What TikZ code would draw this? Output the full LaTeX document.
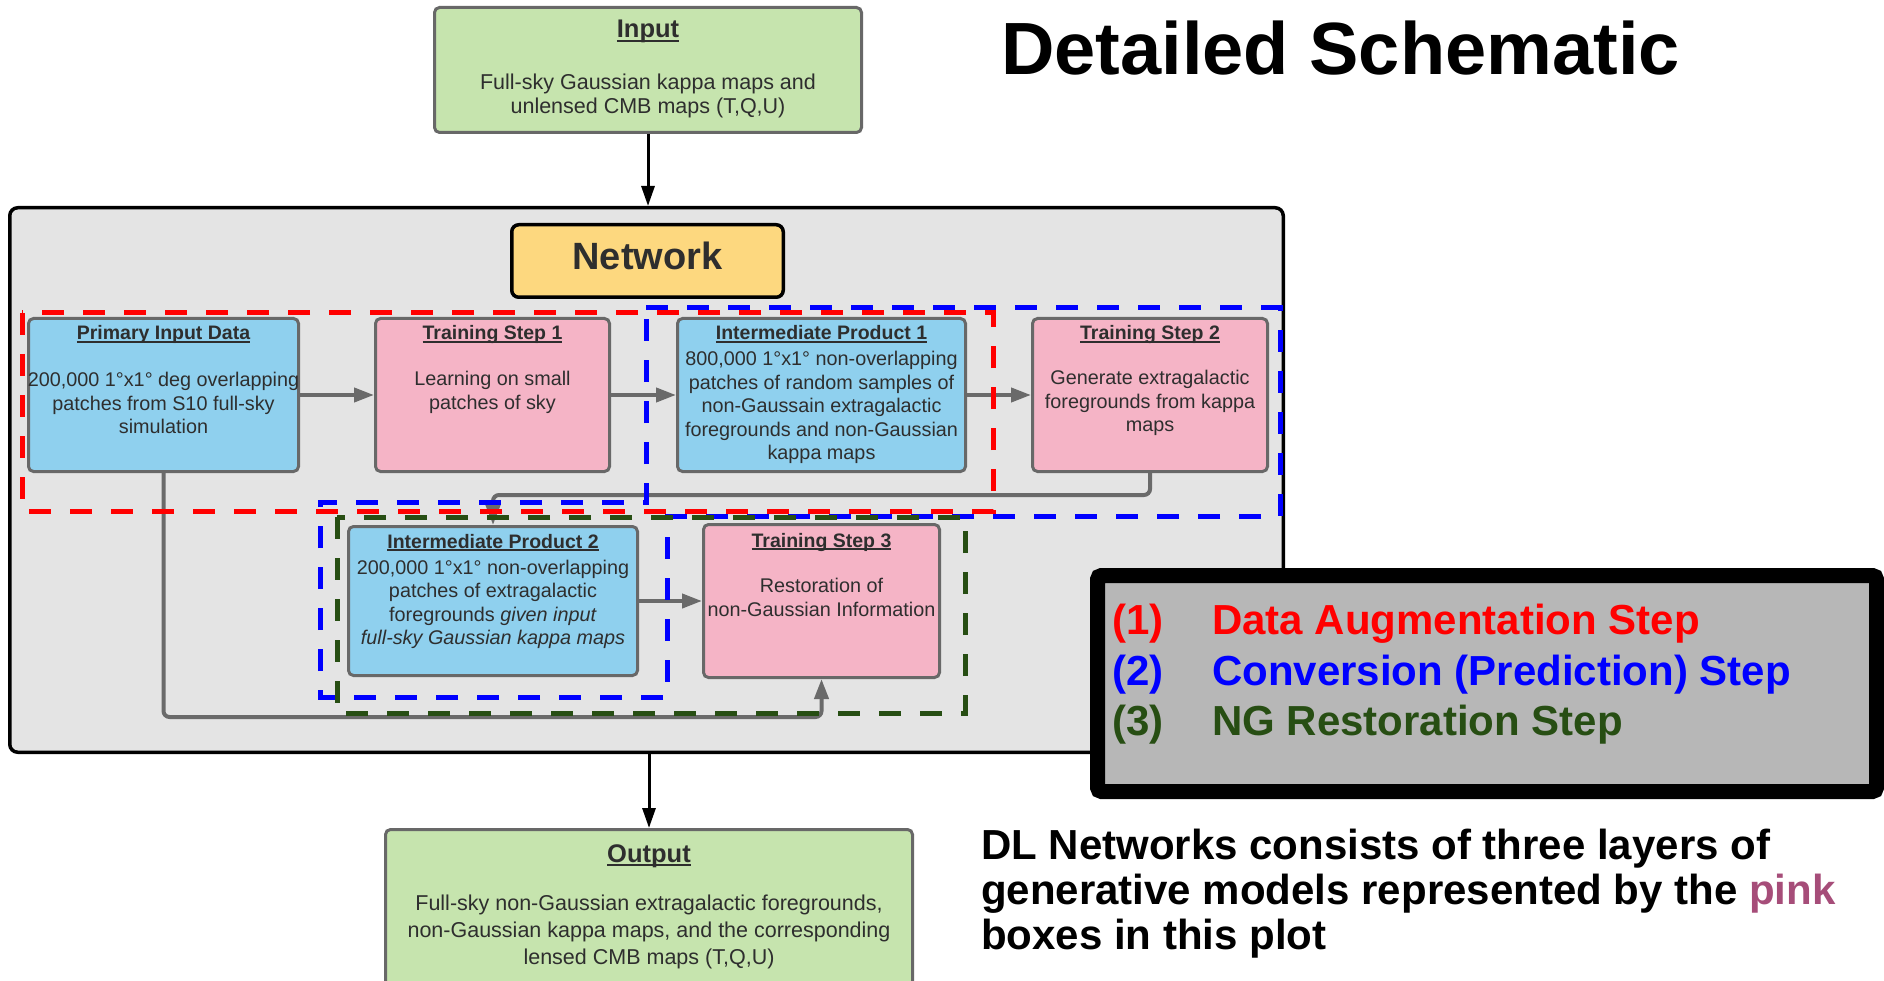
\documentclass[tikz,border=0pt]{standalone}
\usepackage{fontspec}
\setmainfont{Liberation Sans}
\usetikzlibrary{arrows.meta,calc}

\definecolor{boxblue}{HTML}{8FD0EE}
\definecolor{boxpink}{HTML}{F5B4C6}
\definecolor{boxgreen}{HTML}{C6E4AE}
\definecolor{netyellow}{HTML}{FDD87F}
\definecolor{framegray}{HTML}{E4E4E4}
\definecolor{leggray}{HTML}{B7B7B7}
\definecolor{boxgray}{HTML}{686868}
\definecolor{conngray}{HTML}{6A6A6A}
\definecolor{txt}{HTML}{2E2E2E}
\definecolor{dgreen}{HTML}{274E13}
\definecolor{pinktext}{HTML}{A64D79}

% underline at a fixed distance below the baseline
\newcommand{\undl}[1]{\setbox0\hbox{#1}\rlap{\rule[-0.15em]{\wd0}{0.09em}}\box0}

\begin{document}
\begin{tikzpicture}[x=1pt,y=-1pt,
  box/.style={draw=boxgray, line width=3pt, rounded corners=5pt, inner sep=0pt},
  bluebox/.style={box, fill=boxblue},
  pinkbox/.style={box, fill=boxpink},
  greenbox/.style={box, fill=boxgreen},
  ttl/.style={anchor=base, font=\fontsize{19.5}{23}\selectfont\bfseries, text=txt, inner sep=0pt},
  bigttl/.style={anchor=base, font=\fontsize{25.5}{30}\selectfont\bfseries, text=txt, inner sep=0pt},
  body/.style={align=center, font=\fontsize{19.8}{23.5}\selectfont, text=txt, inner sep=0pt},
  iobody/.style={align=center, text=txt, inner sep=0pt},
  conn/.style={draw=conngray, line width=4pt, rounded corners=6pt, -{Triangle[length=20pt,width=14pt]}},
  flow/.style={draw=black, line width=3pt, -{Triangle[length=20pt,width=13pt]}},
  dashbox/.style={line width=5pt, dash pattern=on 22pt off 19pt},
  legtxt/.style={anchor=base west, font=\fontsize{42}{48}\selectfont\bfseries, inner sep=0pt},
  note/.style={anchor=base west, font=\fontsize{42}{48}\selectfont\bfseries, inner sep=0pt}
]
\useasboundingbox (0,0) rectangle (1884,981);

% outer network frame
\node[draw=black, line width=3.5pt, fill=framegray, rounded corners=8pt, inner sep=0pt,
      minimum width=1273.5pt, minimum height=544.5pt] (frame) at (646.5,480) {};

% input / output boxes
\node[greenbox, minimum width=427pt, minimum height=125pt] (inp) at (648,70) {};
\node[greenbox, minimum width=527pt, minimum height=170.5pt] (out) at (649,914.75) {};

% network label box
\node[draw=black, line width=3.5pt, fill=netyellow, rounded corners=7pt, inner sep=0pt,
      minimum width=271.5pt, minimum height=72.5pt] (net) at (647.5,261) {};

% stage boxes
\node[bluebox, minimum width=270pt, minimum height=153pt] (pid) at (163.5,395) {};
\node[pinkbox, minimum width=234pt, minimum height=153pt] (ts1) at (492.5,395) {};
\node[bluebox, minimum width=288pt, minimum height=153pt] (ip1) at (821.5,395) {};
\node[pinkbox, minimum width=235pt, minimum height=153pt] (ts2) at (1150,395) {};
\node[bluebox, minimum width=289pt, minimum height=149pt] (ip2) at (493,601) {};
\node[pinkbox, minimum width=236pt, minimum height=153pt] (ts3) at (821.5,601) {};

% main flow
\draw[flow] (inp.south) -- (inp.south |- frame.north);
\draw[flow] (out.north |- frame.south) -- (out.north);

% connectors between stages
\draw[conn] (pid.east) -- (ts1.west);
\draw[conn] (ts1.east) -- (ip1.west);
\draw[conn] (ip1.east) -- (ts2.west);
\draw[conn] (ip2.east) -- (ts3.west);
\path (ip2.north) ++(0,-30) coordinate (j1);
\draw[conn] (ts2.south) |- (j1) -- (ip2.north);
\path (ts3.south) ++(0,38) coordinate (j2);
\draw[conn] (pid.south) |- (j2) -- (ts3.south);

% step groupings
\draw[dashbox, blue] (646,308) -- (1280,308) -- (1280,516) -- (667,516) -- (667,697)
  -- (320,697) -- (320,502) -- (646,502) -- cycle;
\draw[dashbox, dgreen] (337,517) rectangle (965,713);
\draw[dashbox, red] (22,313) rectangle (993,511);

% legend
\node[draw=black, line width=15pt, fill=leggray, rounded corners=4pt, inner sep=0pt,
      minimum width=779pt, minimum height=216pt] (legend) at (1487,683.5) {};
\node[legtxt, text=red] (l1n) at (1112,634) {(1)};
\node[legtxt, text=red] (l1t) at (1212,634) {Data Augmentation Step};
\node[legtxt, text=blue] (l2n) at (1112,685) {(2)};
\node[legtxt, text=blue] (l2t) at (1212,685) {Conversion (Prediction) Step};
\node[legtxt, text=dgreen] (l3n) at (1112,735) {(3)};
\node[legtxt, text=dgreen] (l3t) at (1212,735) {NG Restoration Step};

% headings and notes
\node[anchor=base west, font=\fontsize{74}{80}\selectfont\bfseries, inner sep=0pt] (head) at (1001,75) {Detailed Schematic};
\node[note] (n1) at (981,859) {DL Networks consists of three layers of};
\node[note] (n2) at (981,904) {generative models represented by the \textcolor{pinktext}{pink}};
\node[note] (n3) at (981,949) {boxes in this plot};

% box texts
\node[bigttl] (inpT) at (648,38) {\undl{Input}};
\node[iobody, font=\fontsize{21.5}{24}\selectfont] (inpB) at (648,95.5)
  {Full-sky Gaussian kappa maps and\\unlensed CMB maps (T,Q,U)};
\node[bigttl] (outT) at (649,862) {\undl{Output}};
\node[iobody, font=\fontsize{21.5}{27}\selectfont] (outB) at (649,932)
  {Full-sky non-Gaussian extragalactic foregrounds,\\non-Gaussian kappa maps, and the corresponding\\lensed CMB maps (T,Q,U)};

\node[anchor=base, font=\fontsize{38}{44}\selectfont\bfseries, text=txt, inner sep=0pt] (netT) at (647.5,270) {Network};

\node[ttl] (pidT) at (163.5,340) {\undl{Primary Input Data}};
\node[body] (pidB) at (163.5,403) {200,000 1°x1° deg overlapping\\patches from S10 full-sky\\simulation};

\node[ttl] (ts1T) at (492.5,340) {\undl{Training Step 1}};
\node[body] (ts1B) at (492.5,392.5) {Learning on small\\patches of sky};

\node[ttl] (ip1T) at (821.5,340) {\undl{Intermediate Product 1}};
\node[body] (ip1B) at (821.5,407.5) {800,000 1°x1° non-overlapping\\patches of random samples of\\non-Gaussain extragalactic\\foregrounds and non-Gaussian\\kappa maps};

\node[ttl] (ts2T) at (1150,340) {\undl{Training Step 2}};
\node[body] (ts2B) at (1150,403) {Generate extragalactic\\foregrounds from kappa\\maps};

\node[ttl] (ip2T) at (493,548) {\undl{Intermediate Product 2}};
\node[body] (ip2B) at (493,604.5) {200,000 1°x1° non-overlapping\\patches of extragalactic\\foregrounds \textit{given input}\\\textit{full-sky Gaussian kappa maps}};

\node[ttl] (ts3T) at (821.5,547) {\undl{Training Step 3}};
\node[body] (ts3B) at (821.5,597.5) {Restoration of\\non-Gaussian Information};
\end{tikzpicture}
\end{document}
